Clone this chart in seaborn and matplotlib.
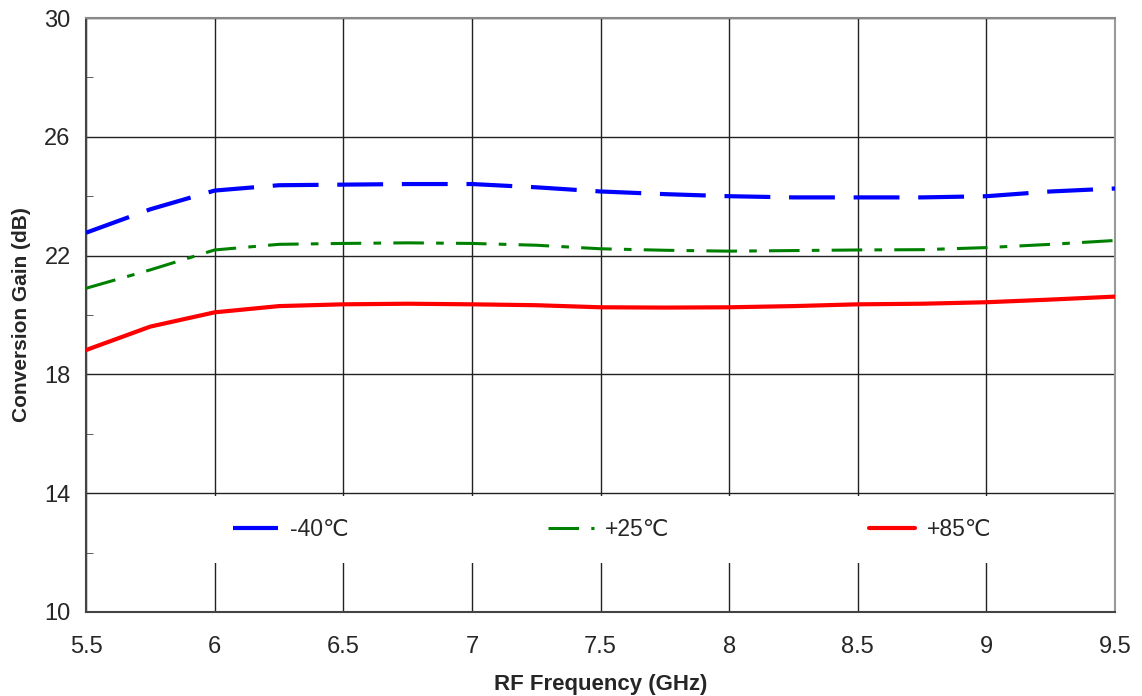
import pandas as pd
import matplotlib
matplotlib.use("Agg")
import matplotlib.pyplot as plt
import seaborn as sns

# Data
freq = [5.5, 5.75, 6.0, 6.25, 6.5, 6.75, 7.0, 7.25, 7.5, 7.75, 8.0, 8.25, 8.5, 8.75, 9.0, 9.25, 9.5]
gain_m40 = [22.77, 23.56, 24.19, 24.37, 24.39, 24.41, 24.41, 24.30, 24.16, 24.07, 24.00, 23.96, 23.96, 23.96, 24.00, 24.16, 24.26]
gain_p25 = [20.90, 21.52, 22.19, 22.38, 22.41, 22.43, 22.41, 22.35, 22.23, 22.18, 22.15, 22.17, 22.19, 22.20, 22.27, 22.38, 22.51]
gain_p85 = [18.82, 19.61, 20.09, 20.30, 20.36, 20.38, 20.36, 20.33, 20.26, 20.25, 20.26, 20.30, 20.36, 20.38, 20.43, 20.52, 20.62]
labels = ["-40\u2103", "+25\u2103", "+85\u2103"]
x_ticks = [5.5, 6, 6.5, 7, 7.5, 8, 8.5, 9, 9.5]
x_ticklabels = ["5.5", "6", "6.5", "7", "7.5", "8", "8.5", "9", "9.5"]
y_ticks = [10, 14, 18, 22, 26, 30]
y_minor = [12, 16, 20, 24, 28]

sns.set_style("white")
plt.rcParams["font.family"] = ["Liberation Sans", "DejaVu Sans"]

fig = plt.figure(figsize=(11.42, 6.96), dpi=100)
ax = fig.add_axes([0.0753, 0.1207, 0.9011, 0.8534])

df = pd.DataFrame({"freq": freq, labels[0]: gain_m40, labels[1]: gain_p25, labels[2]: gain_p85})
styles = {
    labels[0]: dict(color="#0000ff", lw=3.0, dashes=(11, 4.5)),
    labels[1]: dict(color="#008000", lw=2.2, dashes=(10, 4, 2.5, 4)),
    labels[2]: dict(color="#ff0000", lw=3.0),
}
for lab in labels:
    st = styles[lab]
    sns.lineplot(data=df, x="freq", y=lab, ax=ax, color=st["color"], lw=st["lw"],
                 label=lab, zorder=3)
    if "dashes" in st:
        ax.lines[-1].set_dashes(st["dashes"])

ax.set_xlim(5.5, 9.5)
ax.set_ylim(10, 30)
ax.set_xticks(x_ticks)
ax.set_xticklabels(x_ticklabels)
ax.set_yticks(y_ticks)
ax.set_yticks(y_minor, minor=True)
ax.grid(True, which="major", color="#222222", lw=1.0)
ax.tick_params(axis="y", which="major", length=0, pad=11, labelsize=17)
ax.tick_params(axis="y", which="minor", length=5, direction="in", color="#444444", left=True)
ax.tick_params(axis="x", which="major", length=0, pad=17, labelsize=17)

for side, c in [("left", "#444444"), ("bottom", "#444444"), ("top", "#888888"), ("right", "#999999")]:
    ax.spines[side].set_visible(True)
    ax.spines[side].set_color(c)
    ax.spines[side].set_linewidth(1.5)

ax.set_xlabel("RF Frequency (GHz)", fontsize=16, fontweight="bold")
ax.set_ylabel("Conversion Gain (dB)", fontsize=15, fontweight="bold")
ax.xaxis.set_label_coords(0.5, -0.104)
ax.yaxis.set_label_coords(-0.0535, 0.5)

leg = ax.legend(loc="center", bbox_to_anchor=(0.511, 0.1385), ncol=3, fontsize=16.5,
                frameon=True, framealpha=1, facecolor="white", edgecolor="none",
                fancybox=False, borderpad=0.95, handlelength=2.0, handletextpad=0.5,
                columnspacing=8.7)
leg.set_zorder(4)

fig.savefig("out.png", dpi=100)
